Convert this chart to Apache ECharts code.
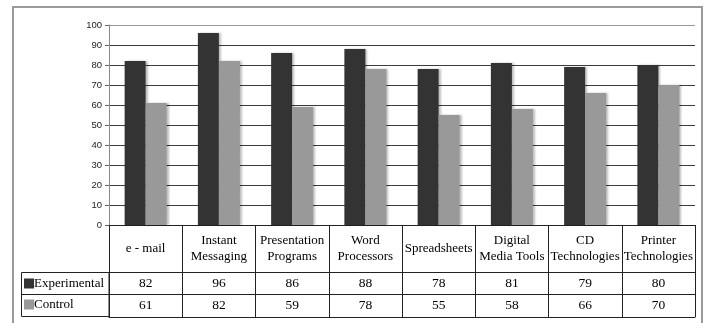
<!DOCTYPE html>
<html>
<head>
<meta charset="utf-8">
<script src="https://cdn.jsdelivr.net/npm/echarts@6/dist/echarts.min.js"></script>
<style>
html,body{margin:0;padding:0;background:#fff;}
#chart{width:706px;height:323px;}
</style>
</head>
<body>
<div id="chart"></div>
<script>
const categories = ["e - mail", "Instant\nMessaging", "Presentation\nPrograms", "Word\nProcessors", "Spreadsheets", "Digital\nMedia Tools", "CD\nTechnologies", "Printer\nTechnologies"];
const experimental = [82, 96, 86, 88, 78, 81, 79, 80];
const control = [61, 82, 59, 78, 55, 58, 66, 70];
const seriesNames = ["Experimental", "Control"];
const yTicks = [0, 10, 20, 30, 40, 50, 60, 70, 80, 90, 100];

const serif = "'Liberation Serif', 'DejaVu Serif', serif";
const chart = echarts.init(document.getElementById('chart'), null, {renderer: 'canvas'});

const gridColors = yTicks.map((t, i) => i === yTicks.length - 1 ? '#9a9a9a' : '#3c3c3c');

const rowAxis = (offset, values, showLine) => ({
  type: 'category',
  data: categories,
  position: 'bottom',
  offset: offset,
  axisLine: {show: showLine, lineStyle: {color: '#222', width: 1}},
  axisTick: {show: false},
  axisLabel: {
    show: !!values,
    interval: 0,
    margin: 11,
    verticalAlign: 'middle',
    fontFamily: serif,
    fontSize: 13.5,
    color: '#000',
    formatter: (v, i) => values ? String(values[i]) : ''
  },
  splitLine: {show: false}
});

chart.setOption({
  animation: false,
  backgroundColor: '#fff',
  grid: {left: 109, right: 11, top: 25, bottom: 98, containLabel: false},
  legend: {
    data: seriesNames,
    orient: 'vertical',
    left: 24,
    top: 277,
    padding: 0,
    itemWidth: 10,
    itemHeight: 10,
    itemGap: 8,
    icon: 'rect',
    textStyle: {fontFamily: serif, fontSize: 13, color: '#000', padding: [0, 0, 0, -5]}
  },
  xAxis: [
    {
      type: 'category',
      data: categories,
      position: 'bottom',
      axisLine: {show: true, lineStyle: {color: '#222', width: 1}},
      axisTick: {show: true, interval: 0, length: 92, lineStyle: {color: '#222', width: 1}},
      axisLabel: {
        interval: 0,
        margin: 24,
        verticalAlign: 'middle',
        fontFamily: serif,
        fontSize: 13,
        lineHeight: 16,
        color: '#000'
      },
      splitLine: {show: false}
    },
    rowAxis(47, experimental, true),
    rowAxis(69, control, true),
    rowAxis(92, null, true)
  ],
  yAxis: {
    type: 'value',
    min: 0,
    max: 100,
    interval: 10,
    axisLine: {show: true, lineStyle: {color: '#888', width: 1}},
    axisTick: {show: true, length: 4, lineStyle: {color: '#666'}},
    axisLabel: {margin: 7, fontFamily: "'Liberation Sans', Arial, sans-serif", fontSize: 9.5, color: '#222'},
    splitLine: {show: true, lineStyle: {color: gridColors, width: 1}}
  },
  series: [
    {
      name: seriesNames[0],
      type: 'bar',
      data: experimental,
      barWidth: 21,
      barGap: '0%',
      itemStyle: {color: '#333333', shadowColor: 'rgba(0,0,0,0.25)', shadowOffsetX: 2, shadowOffsetY: 0, shadowBlur: 2}
    },
    {
      name: seriesNames[1],
      type: 'bar',
      data: control,
      barWidth: 21,
      barGap: '0%',
      itemStyle: {color: '#999999', shadowColor: 'rgba(0,0,0,0.25)', shadowOffsetX: 2, shadowOffsetY: 0, shadowBlur: 2}
    }
  ],
  graphic: [
    {type: 'rect', silent: true, z: 0, shape: {x: 13, y: 7, width: 689, height: 330}, style: {fill: 'none', stroke: '#9a9a9a', lineWidth: 2}},
    {type: 'rect', silent: true, z: 10, shape: {x: 21.5, y: 272.5, width: 87.5, height: 44}, style: {fill: 'none', stroke: '#222', lineWidth: 1}},
    {type: 'line', silent: true, z: 10, shape: {x1: 21.5, y1: 294.5, x2: 109, y2: 294.5}, style: {stroke: '#222', lineWidth: 1}}
  ]
});
</script>
</body>
</html>
